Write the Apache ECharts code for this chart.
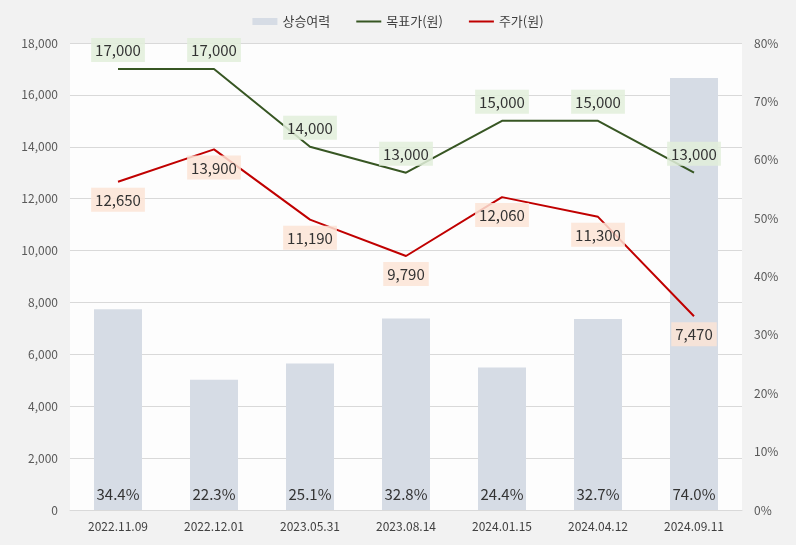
<!DOCTYPE html>
<html><head><meta charset="utf-8">
<script src="https://cdn.jsdelivr.net/npm/echarts@6/dist/echarts.min.js"></script>
<style>html,body{margin:0;padding:0;background:#f2f2f2}#c{width:796px;height:545px}</style>
</head><body><div id="c"></div>
<script>
const categories = ['2022.11.09','2022.12.01','2023.05.31','2023.08.14','2024.01.15','2024.04.12','2024.09.11'];
const upside = [34.4, 22.3, 25.1, 32.8, 24.4, 32.7, 74.0];
const target = [17000, 17000, 14000, 13000, 15000, 15000, 13000];
const price = [12650, 13900, 11190, 9790, 12060, 11300, 7470];
const FONT = '"Noto Sans CJK KR", "Noto Sans", sans-serif';
const fmt = v => v.toLocaleString('en-US');
const chart = echarts.init(document.getElementById('c'));
const lineIcon = 'path://M0,0H25V2H0Z';
chart.setOption({
  backgroundColor: '#f2f2f2',
  textStyle: {fontFamily: FONT},
  legend: {
    top: 10, left: 'center', itemGap: 26, itemWidth: 25, itemHeight: 7,
    textStyle: {fontFamily: FONT, fontSize: 13, color: '#404040'},
    data: [
      {name: '상승여력', icon: 'rect'},
      {name: '목표가(원)', icon: lineIcon},
      {name: '주가(원)', icon: lineIcon}
    ]
  },
  grid: {left: 70, right: 54, top: 43, bottom: 35, show: true, backgroundColor: '#fdfdfd', borderWidth: 0},
  xAxis: {
    type: 'category', data: categories,
    axisLine: {lineStyle: {color: '#d9d9d9'}},
    axisTick: {show: false},
    axisLabel: {color: '#404040', fontSize: 12, margin: 10, fontFamily: FONT}
  },
  yAxis: [
    {type: 'value', min: 0, max: 18000, interval: 2000,
     axisLabel: {color: '#595959', fontSize: 12, formatter: v => fmt(v), margin: 12, fontFamily: FONT},
     splitLine: {lineStyle: {color: '#d9d9d9'}}},
    {type: 'value', min: 0, max: 80, interval: 10,
     axisLabel: {color: '#595959', fontSize: 12, formatter: v => v + '%', margin: 12, fontFamily: FONT},
     splitLine: {show: false}}
  ],
  series: [
    {name: '상승여력', type: 'bar', yAxisIndex: 1, data: upside, barWidth: 48,
     itemStyle: {color: '#d6dce5'},
     label: {show: true, position: 'insideBottom', distance: 8, color: '#333333', fontSize: 15, fontFamily: FONT,
       formatter: p => p.value.toFixed(1) + '%'}},
    {name: '목표가(원)', type: 'line', data: target, symbol: 'circle', symbolSize: 0.01, showSymbol: true, z: 3,
     lineStyle: {color: '#375623', width: 2}, itemStyle: {color: '#375623'},
     label: {show: true, position: 'top', distance: 7, color: '#333333', fontSize: 15, fontFamily: FONT,
       backgroundColor: 'rgba(226,239,218,0.85)', padding: [5, 4, 4, 4], formatter: p => fmt(p.value)}},
    {name: '주가(원)', type: 'line', data: price, symbol: 'circle', symbolSize: 0.01, showSymbol: true, z: 3,
     lineStyle: {color: '#c00000', width: 2}, itemStyle: {color: '#c00000'},
     label: {show: true, position: 'bottom', distance: 6, color: '#333333', fontSize: 15, fontFamily: FONT,
       backgroundColor: 'rgba(252,228,214,0.85)', padding: [5, 4, 4, 4], formatter: p => fmt(p.value)}}
  ]
});
</script></body></html>
